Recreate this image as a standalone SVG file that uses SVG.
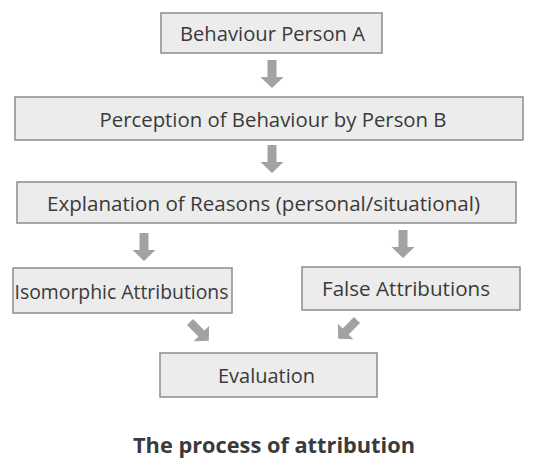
<svg xmlns="http://www.w3.org/2000/svg" width="535" height="462" viewBox="0 0 535 462">
<defs>
<style>
.box{fill:#ececec;stroke:#8c8c8c;stroke-width:1.5}
.lbl{font-family:"Open Sans","DejaVu Sans",sans-serif;font-size:20.5px;fill:#3a3a3a;text-anchor:middle;dominant-baseline:central}
.title{font-family:"Open Sans","DejaVu Sans",sans-serif;font-size:21px;font-weight:bold;fill:#3a3a3a;text-anchor:middle}
.arr{fill:#a2a2a2}
</style>
<path id="barrow" d="M-4.5,0 H4.5 V17 H11.5 L0,28 L-11.5,17 H-4.5 Z"/>
</defs>
<rect width="535" height="462" fill="#ffffff"/>
<g id="connectors">
<use href="#barrow" class="arr" transform="translate(272,60)"/>
<use href="#barrow" class="arr" transform="translate(272,145)"/>
<use href="#barrow" class="arr" transform="translate(144,233)"/>
<use href="#barrow" class="arr" transform="translate(403,230)"/>
<use href="#barrow" class="arr" transform="translate(190,322) rotate(-45) scale(0.95)"/>
<use href="#barrow" class="arr" transform="translate(357,320) rotate(45) scale(0.95)"/>
</g>
<g id="node-behaviour">
<rect class="box" x="161" y="13" width="221" height="40"/>
<text class="lbl" x="272.5" y="33" textLength="185" lengthAdjust="spacingAndGlyphs">Behaviour Person A</text>
</g>
<g id="node-perception">
<rect class="box" x="15" y="97" width="508" height="43"/>
<text class="lbl" x="273" y="119" textLength="347" lengthAdjust="spacingAndGlyphs">Perception of Behaviour by Person B</text>
</g>
<g id="node-explanation">
<rect class="box" x="17" y="182" width="499" height="41"/>
<text class="lbl" x="263.5" y="203" textLength="433" lengthAdjust="spacingAndGlyphs">Explanation of Reasons (personal/situational)</text>
</g>
<g id="node-isomorphic">
<rect class="box" x="13" y="268" width="219" height="45"/>
<text class="lbl" x="121.5" y="291" textLength="214" lengthAdjust="spacingAndGlyphs">Isomorphic Attributions</text>
</g>
<g id="node-false">
<rect class="box" x="302" y="267" width="218" height="43"/>
<text class="lbl" x="406" y="288" textLength="168" lengthAdjust="spacingAndGlyphs">False Attributions</text>
</g>
<g id="node-evaluation">
<rect class="box" x="160" y="353" width="217" height="44"/>
<text class="lbl" x="266.5" y="375" textLength="97" lengthAdjust="spacingAndGlyphs">Evaluation</text>
</g>
<text class="title" x="274" y="453" textLength="282" lengthAdjust="spacingAndGlyphs">The process of attribution</text>
</svg>
